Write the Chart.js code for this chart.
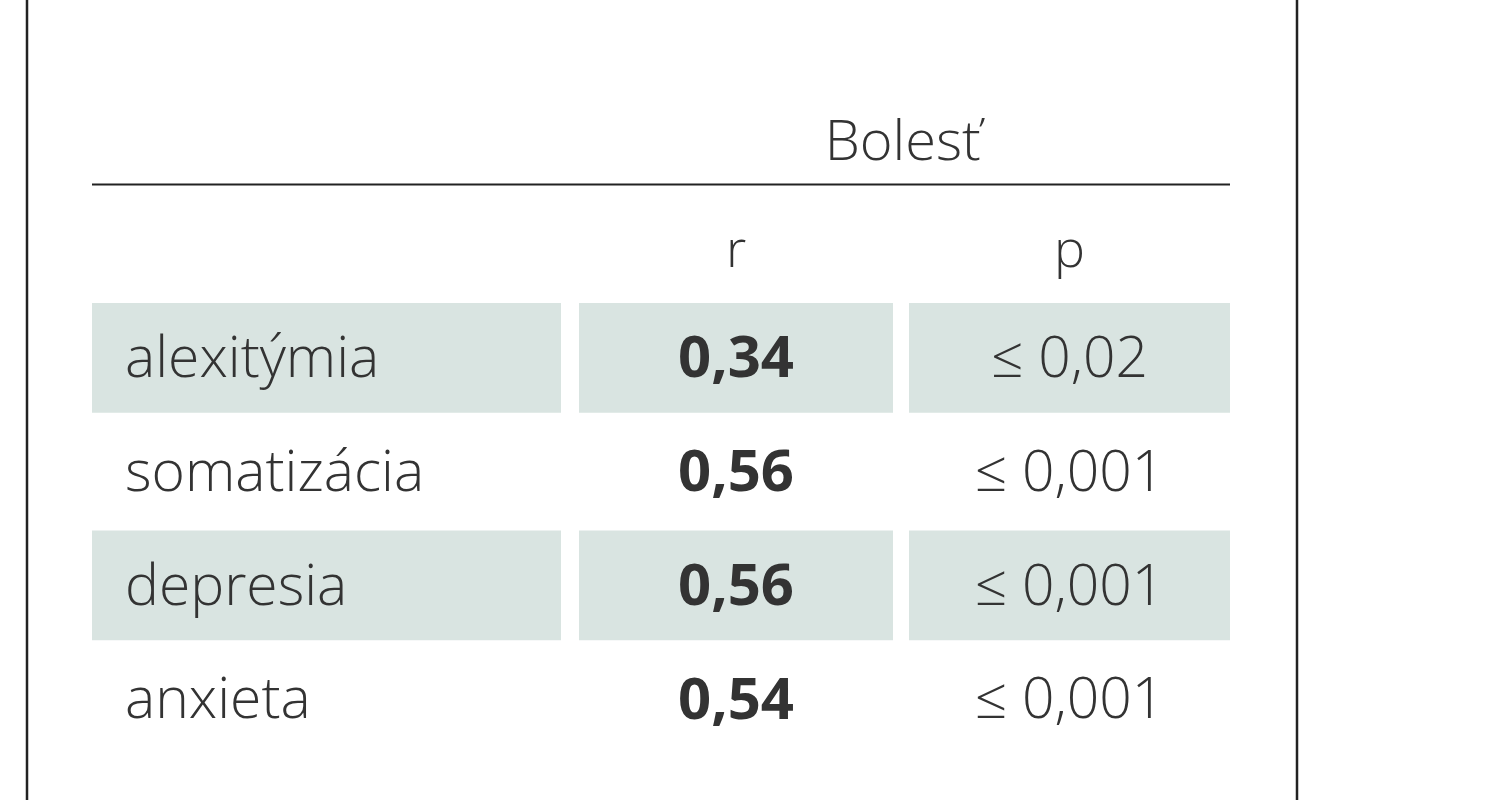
<!DOCTYPE html>
<html>
<head>
<meta charset="utf-8">
<script src="https://cdn.jsdelivr.net/npm/chart.js@4"></script>
<style>
  html, body { margin: 0; padding: 0; background: #fff; }
  #wrap { width: 1505px; height: 800px; }
</style>
</head>
<body>
<div id="wrap"><canvas id="tbl"></canvas></div>
<script>
const rowLabels = ["alexitýmia", "somatizácia", "depresia", "anxieta"];
const rValues = ["0,34", "0,56", "0,56", "0,54"];
const pValues = ["≤ 0,02", "≤ 0,001", "≤ 0,001", "≤ 0,001"];
const shadedRows = [0, 2];
const columnEdges = [[0, 469], [487, 801], [817, 1138]];
const headerTitle = "Bolesť";
const subHeaders = ["", "r", "p"];

const SHADE = "#d9e4e1";
const INK = "#333333";
const FONT = '"Open Sans", "DejaVu Sans", sans-serif';

const datasets = columnEdges.map(edge => ({
    data: rowLabels.map((_, i) => shadedRows.includes(i) ? [edge[0], edge[1]] : null),
    backgroundColor: SHADE,
    borderWidth: 0,
    barPercentage: 0.965,
    categoryPercentage: 1,
    grouped: false
}));

const tableText = {
    id: "tableText",
    afterDatasetsDraw(chart) {
        const { ctx, scales: { x, y }, chartArea } = chart;
        ctx.save();
        ctx.fillStyle = INK;
        ctx.textBaseline = "middle";

        const centers = columnEdges.map(e => x.getPixelForValue((e[0] + e[1]) / 2));
        const firstRowY = y.getPixelForValue(0);
        const step = y.getPixelForValue(1) - firstRowY;

        rowLabels.forEach((label, i) => {
            const py = y.getPixelForValue(i) + 3;
            ctx.font = "300 57px " + FONT;
            ctx.textAlign = "left";
            ctx.fillText(label, x.getPixelForValue(columnEdges[0][0]) + 33, py);
            ctx.textAlign = "center";
            ctx.font = "bold 58px " + FONT;
            ctx.fillText(rValues[i], centers[1], py);
            ctx.font = "300 57px " + FONT;
            ctx.fillText(pValues[i], centers[2], py);
        });

        // sub headers r / p
        ctx.font = "300 52px " + FONT;
        ctx.textAlign = "center";
        subHeaders.forEach((h, i) => {
            if (h) ctx.fillText(h, centers[i], firstRowY - step * 0.93);
        });

        // title and rule
        ctx.font = "300 56px " + FONT;
        const titleX = (centers[1] + centers[2]) / 2;
        ctx.fillText(headerTitle, titleX, firstRowY - step * 1.88);
        const ruleY = Math.round(firstRowY - step * 1.53) + 0.5;
        ctx.strokeStyle = "#222";
        ctx.lineWidth = 2;
        ctx.beginPath();
        ctx.moveTo(chartArea.left, ruleY);
        ctx.lineTo(chartArea.right, ruleY);
        ctx.stroke();

        // outer frame
        ctx.lineWidth = 2.5;
        ctx.beginPath();
        ctx.moveTo(27, 0); ctx.lineTo(27, chart.height);
        ctx.moveTo(1297, 0); ctx.lineTo(1297, chart.height);
        ctx.stroke();
        ctx.restore();
    }
};

new Chart(document.getElementById("tbl"), {
    type: "bar",
    data: { labels: rowLabels, datasets: datasets },
    options: {
        indexAxis: "y",
        responsive: true,
        maintainAspectRatio: false,
        animation: false,
        layout: { padding: { left: 92, right: 275, top: 301, bottom: 44 } },
        plugins: { legend: { display: false }, tooltip: { enabled: false } },
        scales: {
            x: { type: "linear", min: 0, max: 1138, display: false },
            y: { type: "category", display: false, grid: { display: false } }
        }
    },
    plugins: [tableText]
});
</script>
</body>
</html>
